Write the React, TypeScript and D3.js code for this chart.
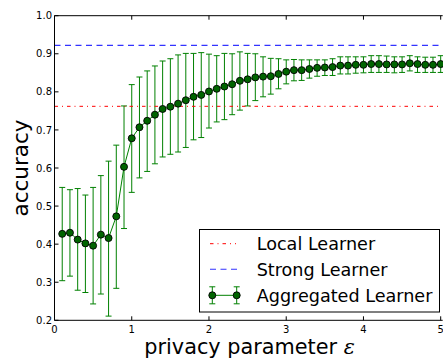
import React, { useEffect, useRef } from 'react';
import * as d3 from 'd3';

// privacy parameter values (x)
const epsilons = [
  0.1, 0.2, 0.3, 0.4, 0.5, 0.6, 0.7, 0.8, 0.9, 1.0,
  1.1, 1.2, 1.3, 1.4, 1.5, 1.6, 1.7, 1.8, 1.9, 2.0,
  2.1, 2.2, 2.3, 2.4, 2.5, 2.6, 2.7, 2.8, 2.9, 3.0,
  3.1, 3.2, 3.3, 3.4, 3.5, 3.6, 3.7, 3.8, 3.9, 4.0,
  4.1, 4.2, 4.3, 4.4, 4.5, 4.6, 4.7, 4.8, 4.9, 5.0,
];

// aggregated learner mean accuracy
const aggMean = [
  0.427, 0.430, 0.412, 0.402, 0.396, 0.425, 0.416, 0.473, 0.603, 0.678,
  0.707, 0.724, 0.740, 0.755, 0.761, 0.769, 0.778, 0.787, 0.792, 0.801,
  0.808, 0.814, 0.820, 0.829, 0.833, 0.838, 0.840, 0.841, 0.847, 0.853,
  0.857, 0.857, 0.860, 0.863, 0.864, 0.865, 0.869, 0.869, 0.871, 0.871,
  0.873, 0.873, 0.872, 0.872, 0.872, 0.875, 0.873, 0.871, 0.871, 0.873,
];

// error bar top / bottom
const aggUpper = [
  0.549, 0.543, 0.546, 0.529, 0.549, 0.580, 0.618, 0.660, 0.763, 0.819,
  0.839, 0.855, 0.868, 0.881, 0.887, 0.897, 0.901, 0.901, 0.903, 0.899,
  0.895, 0.901, 0.900, 0.905, 0.901, 0.900, 0.892, 0.888, 0.887, 0.884,
  0.885, 0.884, 0.884, 0.884, 0.884, 0.887, 0.892, 0.892, 0.892, 0.892,
  0.895, 0.895, 0.894, 0.892, 0.892, 0.895, 0.892, 0.891, 0.891, 0.895,
];
const aggLower = [
  0.304, 0.316, 0.279, 0.273, 0.243, 0.269, 0.211, 0.284, 0.441, 0.536,
  0.574, 0.591, 0.611, 0.629, 0.636, 0.642, 0.654, 0.674, 0.680, 0.705,
  0.721, 0.727, 0.740, 0.752, 0.763, 0.777, 0.787, 0.794, 0.808, 0.821,
  0.829, 0.830, 0.836, 0.841, 0.843, 0.843, 0.847, 0.847, 0.849, 0.850,
  0.851, 0.851, 0.851, 0.850, 0.851, 0.855, 0.851, 0.851, 0.851, 0.851,
];

const localLearner = 0.762;
const strongLearner = 0.922;

const xTicks = [0, 1, 2, 3, 4, 5];
const yTicks = [0.2, 0.3, 0.4, 0.5, 0.6, 0.7, 0.8, 0.9, 1.0];
const legendLabels = ['Local Learner', 'Strong Learner', 'Aggregated Learner'];

const FONT = "'DejaVu Sans', sans-serif";

const App = () => {
  const svgRef = useRef<SVGSVGElement>(null);

  useEffect(() => {
    const svg = d3.select(svgRef.current);
    svg.selectAll('*').remove();

    const x = d3.scaleLinear().domain([0, 5]).range([54.5, 440.7]);
    const y = d3.scaleLinear().domain([0.2, 1.0]).range([320.3, 15.7]);

    const data = epsilons.map((e, i) => ({
      e, m: aggMean[i], lo: aggLower[i], hi: aggUpper[i],
    }));

    const green = '#008000';
    const blue = '#3333ff';

    // strong learner reference
    svg.append('line')
      .attr('x1', x(0)).attr('x2', x(5))
      .attr('y1', y(strongLearner)).attr('y2', y(strongLearner))
      .attr('stroke', blue).attr('stroke-width', 1.1)
      .attr('stroke-dasharray', '6 4.5');

    // error bars
    const eb = svg.append('g');
    eb.selectAll('line.v')
      .data(data)
      .enter()
      .append('line')
      .attr('x1', d => x(d.e)).attr('x2', d => x(d.e))
      .attr('y1', d => y(d.lo)).attr('y2', d => y(d.hi))
      .attr('stroke', green).attr('stroke-width', 1);
    [d => d.lo, d => d.hi].forEach(acc => {
      eb.append('g').selectAll('line')
        .data(data)
        .enter()
        .append('line')
        .attr('x1', d => x(d.e) - 3).attr('x2', d => x(d.e) + 3)
        .attr('y1', d => y(acc(d))).attr('y2', d => y(acc(d)))
        .attr('stroke', green).attr('stroke-width', 1);
    });

    svg.append('line')
      .attr('x1', x(0)).attr('x2', x(5))
      .attr('y1', y(localLearner)).attr('y2', y(localLearner))
      .attr('stroke', '#ff0000').attr('stroke-width', 1)
      .attr('stroke-dasharray', '3.5 4 1 4');

    const line = d3.line<any>().x(d => x(d.e)).y(d => y(d.m));
    svg.append('path')
      .datum(data)
      .attr('d', line)
      .attr('fill', 'none')
      .attr('stroke', green)
      .attr('stroke-width', 1);

    svg.append('g').selectAll('circle')
      .data(data)
      .enter()
      .append('circle')
      .attr('cx', d => x(d.e))
      .attr('cy', d => y(d.m))
      .attr('r', 3.5)
      .attr('fill', '#006400')
      .attr('stroke', '#000')
      .attr('stroke-width', 0.9);

    // frame (right side is cut by the image edge)
    const axes = svg.append('g');
    axes.append('path')
      .attr('d', `M${x(5) + 2},${y(1)}H${x(0)}V${y(0.2)}H${x(5) + 2}`)
      .attr('fill', 'none')
      .attr('stroke', '#000')
      .attr('stroke-width', 1);

    xTicks.forEach(t => {
      axes.append('line')
        .attr('x1', x(t)).attr('x2', x(t))
        .attr('y1', y(0.2)).attr('y2', y(0.2) - 4)
        .attr('stroke', '#000');
      axes.append('line')
        .attr('x1', x(t)).attr('x2', x(t))
        .attr('y1', y(1)).attr('y2', y(1) + 4)
        .attr('stroke', '#000');
      axes.append('text')
        .attr('x', x(t)).attr('y', 332.5)
        .attr('text-anchor', 'middle')
        .style('font-family', FONT).style('font-size', '10px')
        .text(d3.format('d')(t));
    });

    yTicks.forEach(t => {
      axes.append('line')
        .attr('x1', x(0)).attr('x2', x(0) + 4)
        .attr('y1', y(t)).attr('y2', y(t))
        .attr('stroke', '#000');
      axes.append('text')
        .attr('x', 52).attr('y', y(t) + 3.6)
        .attr('text-anchor', 'end')
        .style('font-family', FONT).style('font-size', '10px')
        .text(d3.format('.1f')(t));
    });

    // axis labels
    svg.append('text')
      .attr('x', (x(0) + x(5)) / 2 + 2).attr('y', 354)
      .attr('text-anchor', 'middle')
      .style('font-family', FONT).style('font-size', '20.8px')
      .text('privacy parameter ')
      .append('tspan')
      .style('font-style', 'italic')
      .style('font-family', "'DejaVu Serif', serif")
      .text('ε');

    svg.append('text')
      .attr('transform', `translate(28, ${(y(0.2) + y(1)) / 2}) rotate(-90)`)
      .attr('text-anchor', 'middle')
      .style('font-family', FONT).style('font-size', '21.5px')
      .text('accuracy');

    // legend
    const lg = svg.append('g');
    lg.append('rect')
      .attr('x', 199.5).attr('y', 229.5)
      .attr('width', 240).attr('height', 82.5)
      .attr('fill', '#fff').attr('stroke', '#000').attr('stroke-width', 1);

    const rows = [243.7, 269.3, 295.3];
    lg.append('line')
      .attr('x1', 210).attr('x2', 236).attr('y1', rows[0]).attr('y2', rows[0])
      .attr('stroke', '#ff0000').attr('stroke-dasharray', '3.5 4 1 4');
    lg.append('line')
      .attr('x1', 210).attr('x2', 238).attr('y1', rows[1]).attr('y2', rows[1])
      .attr('stroke', blue).attr('stroke-width', 1.1).attr('stroke-dasharray', '6 4.5');
    lg.append('line')
      .attr('x1', 212.3).attr('x2', 236.7).attr('y1', rows[2]).attr('y2', rows[2])
      .attr('stroke', green);
    [212.3, 236.7].forEach(cx => {
      lg.append('line')
        .attr('x1', cx).attr('x2', cx)
        .attr('y1', rows[2] - 8.5).attr('y2', rows[2] + 8.5)
        .attr('stroke', green);
      [-8.5, 8.5].forEach(dy => {
        lg.append('line')
          .attr('x1', cx - 3).attr('x2', cx + 3)
          .attr('y1', rows[2] + dy).attr('y2', rows[2] + dy)
          .attr('stroke', green);
      });
      lg.append('circle')
        .attr('cx', cx).attr('cy', rows[2]).attr('r', 3.5)
        .attr('fill', '#006400').attr('stroke', '#000').attr('stroke-width', 0.9);
    });
    legendLabels.forEach((l, i) => {
      lg.append('text')
        .attr('x', 256.7).attr('y', rows[i] + 6.2)
        .style('font-family', FONT).style('font-size', '17.6px')
        .text(l);
    });
  }, []);

  return (
    <svg
      ref={svgRef}
      width={443}
      height={360}
      style={{ position: 'absolute', left: 0, top: 0, background: '#fff' }}
    />
  );
};

export default App;
